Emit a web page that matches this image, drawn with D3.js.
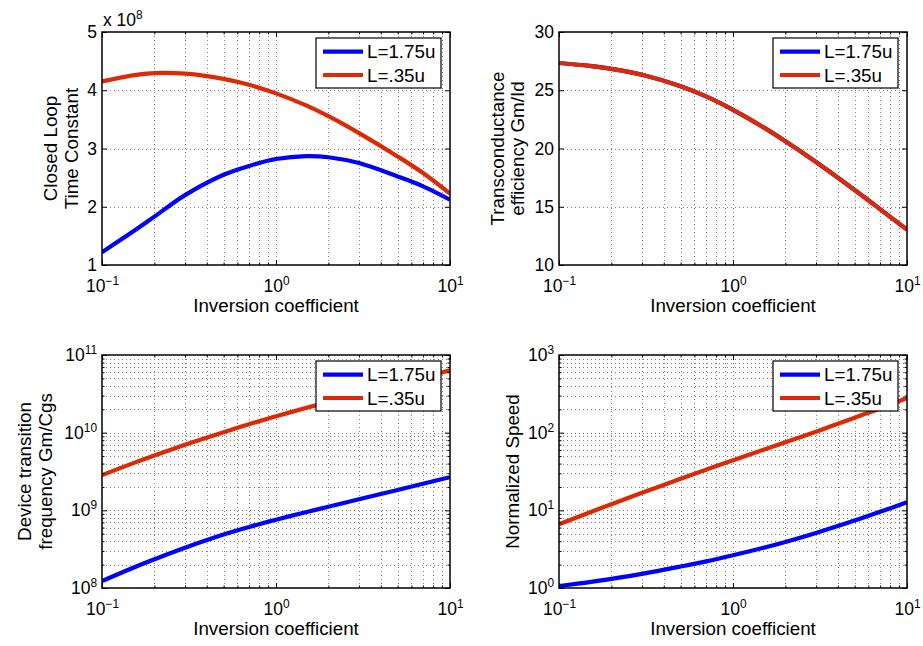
<!DOCTYPE html>
<html><head><meta charset="utf-8">
<script src="https://cdn.jsdelivr.net/npm/d3@7"></script>
<style>
html,body{margin:0;padding:0;background:#fff;}
svg text{font-family:"Liberation Sans",Arial,Helvetica,sans-serif;fill:#000;}
</style></head><body>
<svg id="c" width="923" height="646"></svg>
<script>
// ---------------- data ----------------
const ic = [0.1, 0.15, 0.2, 0.3, 0.5, 0.7, 1, 1.5, 2, 3, 5, 7, 10];
const seriesNames = ["L=1.75u", "L=.35u"];
const seriesColors = ["#0000ff", "#dc2a06"];

const tauL175 = [1.22e8, 1.57e8, 1.83e8, 2.20e8, 2.55e8, 2.70e8, 2.82e8, 2.87e8, 2.85e8, 2.75e8, 2.52e8, 2.35e8, 2.12e8];
const tauL035 = [4.15e8, 4.256e8, 4.293e8, 4.284e8, 4.195e8, 4.093e8, 3.946e8, 3.735e8, 3.554e8, 3.264e8, 2.864e8, 2.579e8, 2.225e8];

const gmidL175 = [27.34, 27.09, 26.84, 26.33, 25.35, 24.47, 23.32, 21.81, 20.62, 18.84, 16.44, 14.80, 13.03];
const gmidL035 = [27.34, 27.09, 26.84, 26.33, 25.35, 24.47, 23.32, 21.81, 20.62, 18.84, 16.44, 14.80, 13.03];

const ftL175 = [1.23e8, 1.81e8, 2.34e8, 3.30e8, 4.88e8, 6.11e8, 7.57e8, 9.51e8, 1.11e9, 1.39e9, 1.83e9, 2.20e9, 2.67e9];
const ftL035 = [2.84e9, 4.02e9, 5.08e9, 6.97e9, 1.016e10, 1.285e10, 1.626e10, 2.09e10, 2.48e10, 3.16e10, 4.25e10, 5.16e10, 6.35e10];

const speedL175 = [1.06, 1.19, 1.31, 1.52, 1.89, 2.20, 2.64, 3.30, 3.92, 5.12, 7.39, 9.57, 12.7];
const speedL035 = [6.6, 9.4, 12.0, 16.8, 25.5, 33.4, 44.2, 60.4, 75.3, 103, 156, 205, 279];

const xTicks = [0.1, 1, 10];
const xTickExp = ["\u22121", "0", "1"];
const tauTicks = [1e8, 2e8, 3e8, 4e8, 5e8];
const tauTickLabels = ["1", "2", "3", "4", "5"];
const gmidTicks = [10, 15, 20, 25, 30];
const gmidTickLabels = ["10", "15", "20", "25", "30"];
const ftTicks = [1e8, 1e9, 1e10, 1e11];
const ftTickExp = ["8", "9", "10", "11"];
const speedTicks = [1, 10, 100, 1000];
const speedTickExp = ["0", "1", "2", "3"];
const xLabel = "Inversion coefficient";

// ---------------- layout ----------------
const svg = d3.select("#c");
const FS = 17.5;   // tick labels
const LS = 18.8;   // axis labels / legend

const panels = [
  {box:[102,32,450,265], log:false, dom:[1e8,5e8], ticks:tauTicks, labels:tauTickLabels,
   series:[tauL175,tauL035], ylab:["Closed Loop","Time Constant"], ylabX:[-52,-31], expo:"8"},
  {box:[559,32,907,265], log:false, dom:[10,30], ticks:gmidTicks, labels:gmidTickLabels,
   series:[gmidL175,gmidL035], ylab:["Transconductance","efficiency Gm/Id"], ylabX:[-62,-42]},
  {box:[102,355,450,588], log:true, dom:[1e8,1e11], ticks:ftTicks, exps:ftTickExp,
   series:[ftL175,ftL035], ylab:["Device transition","frequency Gm/Cgs"], ylabX:[-78,-57]},
  {box:[559,355,907,588], log:true, dom:[1,1000], ticks:speedTicks, exps:speedTickExp,
   series:[speedL175,speedL035], ylab:["Normalized Speed"], ylabX:[-47]}
];

function logMinor(lo, hi){
  const out = [];
  for (let e = Math.round(Math.log10(lo)); e < Math.round(Math.log10(hi)); e++){
    for (let k = 2; k <= 9; k++) out.push(k * Math.pow(10, e));
  }
  return out;
}
function supLabel(sel, exps){
  sel.each(function(d, i){
    const t = d3.select(this);
    t.text(null);
    t.append("tspan").text("10");
    t.append("tspan").attr("dy", "-0.6em").attr("font-size", (FS*0.68)+"px").text(exps[i]);
  });
}

panels.forEach(p => {
  const [x0,y0,x1,y1] = p.box;
  const x = d3.scaleLog().domain([0.1,10]).range([x0,x1]);
  const y = (p.log ? d3.scaleLog() : d3.scaleLinear()).domain(p.dom).range([y1,y0]);
  const g = svg.append("g");

  // grid
  const xMinor = logMinor(0.1, 10);
  const xGrid = xMinor.concat([1]);
  const yGrid = p.log ? logMinor(p.dom[0], p.dom[1]).concat(p.ticks.slice(1,-1)) : p.ticks.slice(1,-1);
  const grid = g.append("g").attr("stroke","#808080").attr("stroke-width",1).attr("stroke-dasharray","1,3");
  grid.selectAll("line.vx").data(xGrid).join("line")
    .attr("x1", d => Math.round(x(d))+0.5).attr("x2", d => Math.round(x(d))+0.5)
    .attr("y1", y0).attr("y2", y1);
  grid.selectAll("line.hy").data(yGrid).join("line")
    .attr("y1", d => Math.round(y(d))+0.5).attr("y2", d => Math.round(y(d))+0.5)
    .attr("x1", x0).attr("x2", x1);

  // curves
  const clip = "clip" + x0 + "_" + y0;
  svg.append("clipPath").attr("id", clip).append("rect")
    .attr("x", x0).attr("y", y0).attr("width", x1-x0).attr("height", y1-y0);
  const line = d3.line().x((d,i) => x(ic[i])).y(d => y(d)).curve(d3.curveCatmullRom.alpha(0.5));
  p.series.forEach((s, k) => {
    g.append("path").attr("d", line(s)).attr("fill","none")
      .attr("stroke", seriesColors[k]).attr("stroke-width", 4.2)
      .attr("stroke-linejoin","round")
      .attr("clip-path", "url(#"+clip+")");
  });

  // axes (ticks inward)
  const axB = d3.axisBottom(x).tickValues(xTicks).tickSize(-5).tickSizeOuter(0).tickPadding(15);
  const axBm = d3.axisBottom(x).tickValues(xMinor).tickSize(-2.5).tickSizeOuter(0).tickFormat("");
  const axT = d3.axisTop(x).tickValues(xTicks).tickSize(-5).tickSizeOuter(0).tickFormat("");
  const axTm = d3.axisTop(x).tickValues(xMinor).tickSize(-2.5).tickSizeOuter(0).tickFormat("");
  const axL = d3.axisLeft(y).tickValues(p.ticks).tickSize(-5).tickSizeOuter(0).tickPadding(5);
  const axR = d3.axisRight(y).tickValues(p.ticks).tickSize(-5).tickSizeOuter(0).tickFormat("");

  const gb = g.append("g").attr("transform", `translate(0,${y1})`).call(axB);
  g.append("g").attr("transform", `translate(0,${y1})`).call(axBm);
  g.append("g").attr("transform", `translate(0,${y0})`).call(axT);
  g.append("g").attr("transform", `translate(0,${y0})`).call(axTm);
  const gl = g.append("g").attr("transform", `translate(${x0},0)`).call(axL);
  g.append("g").attr("transform", `translate(${x1},0)`).call(axR);
  if (p.log){
    const yMinor = logMinor(p.dom[0], p.dom[1]);
    g.append("g").attr("transform", `translate(${x0},0)`)
      .call(d3.axisLeft(y).tickValues(yMinor).tickSize(-2.5).tickSizeOuter(0).tickFormat(""));
    g.append("g").attr("transform", `translate(${x1},0)`)
      .call(d3.axisRight(y).tickValues(yMinor).tickSize(-2.5).tickSizeOuter(0).tickFormat(""));
  }
  g.selectAll(".domain").remove();
  g.selectAll(".tick line").attr("stroke","#000").attr("stroke-width",1);
  g.selectAll(".tick text").attr("font-size", FS+"px").attr("font-family", null);
  supLabel(gb.selectAll(".tick text"), xTickExp);
  if (p.log) supLabel(gl.selectAll(".tick text"), p.exps);
  else gl.selectAll(".tick text").text((d,i) => p.labels[i]);

  // box
  g.append("rect").attr("x", x0).attr("y", y0).attr("width", x1-x0).attr("height", y1-y0)
    .attr("fill","none").attr("stroke","#000").attr("stroke-width",1.5);

  // exponent
  if (p.expo){
    const t = g.append("text").attr("x", x0+1).attr("y", y0-6).attr("font-size", FS+"px");
    t.append("tspan").text("x 10");
    t.append("tspan").attr("dy","-0.6em").attr("font-size",(FS*0.68)+"px").text(p.expo);
  }

  // axis labels
  g.append("text").attr("x", (x0+x1)/2).attr("y", y1+47).attr("text-anchor","middle")
    .attr("font-size", LS+"px").text(xLabel);
  const yc = (y0+y1)/2;
  p.ylab.forEach((s, i) => {
    g.append("text").attr("transform", `translate(${x0+p.ylabX[i]},${yc}) rotate(-90)`)
      .attr("text-anchor","middle").attr("dominant-baseline","central")
      .attr("font-size", LS+"px").text(s);
  });

  // legend
  const lx = x1 - 9 - 125, ly = y0 + 6;
  const lg = g.append("g");
  lg.append("rect").attr("x", lx).attr("y", ly).attr("width",125).attr("height",50)
    .attr("fill","#fff").attr("stroke","#000").attr("stroke-width",1.2);
  seriesNames.forEach((n, k) => {
    const yy = ly + 13.7 + k*23.3;
    lg.append("line").attr("x1", lx+7).attr("x2", lx+47).attr("y1", yy).attr("y2", yy)
      .attr("stroke", seriesColors[k]).attr("stroke-width", 4.2);
    lg.append("text").attr("x", lx+51).attr("y", yy).attr("dominant-baseline","central")
      .attr("font-size", LS+"px").text(n);
  });
});
</script>
</body></html>
